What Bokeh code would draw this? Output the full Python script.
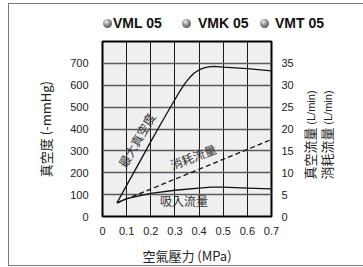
import math
from bokeh.plotting import figure
from bokeh.layouts import column, row
from bokeh.models import (Range1d, LinearAxis, FixedTicker, Label, Grid, InlineStyleSheet, Div)
from bokeh.embed import file_html
from bokeh.resources import INLINE

# ---- data ----
x_ticks = [0, 0.1, 0.2, 0.3, 0.4, 0.5, 0.6, 0.7]
x_tick_labels = ["0", "0.1", "0.2", "0.3", "0.4", "0.5", "0.6", "0.7"]
left_ticks = [0, 100, 200, 300, 400, 500, 600, 700]
right_ticks = [0, 5, 10, 15, 20, 25, 30, 35]

vac_pressure = [0.06, 0.10, 0.15, 0.20, 0.25, 0.30, 0.32, 0.34, 0.36, 0.38, 0.40,
                0.42, 0.44, 0.46, 0.50, 0.60, 0.70]
vac_mmhg = [62, 142, 242, 342, 440, 535, 572, 606, 634, 656, 670,
            679, 684, 686, 683, 676, 666]

cons_pressure = [0.06, 0.70]
cons_lmin = [3.1, 17.6]

suc_pressure = [0.06, 0.10, 0.20, 0.30, 0.40, 0.45, 0.50, 0.60, 0.70]
suc_lmin = [3.1, 4.1, 5.3, 6.0, 6.5, 6.7, 6.7, 6.5, 6.3]

models = ["VML 05", "VMK 05", "VMT 05"]
right_titles = ["真空流量", "消耗流量"]
right_unit = "(L/min)"

CJK = "Noto Sans CJK TC"
LAT = "Liberation Sans"
W = 363
H = 267
TOP_H = 40
PLOT_W = 300

# ---- legend strip (model markers), as HTML ----
marker_cx = [107, 186, 264.5]      # layout positions of the legend entries
label_x0 = [113, 198, 275]
leg_y = 23
parts = []
for cx, lx, m in zip(marker_cx, label_x0, models):
    parts.append(
        f'<span style="position:absolute;left:{cx - 4.5}px;top:{leg_y - 4.5}px;width:9px;height:9px;'
        f'border-radius:50%;background:radial-gradient(circle at 38% 32%, #f2f2f2 0%, #9a9a9a 35%, '
        f'#5a5a5a 75%, #3a3a3a 100%);"></span>'
        f'<span style="position:absolute;left:{lx}px;top:{leg_y - 9}px;line-height:18px;'
        f'white-space:nowrap;">{m}</span>')
legend_div = Div(width=W, height=TOP_H, margin=0,
                 text=(f'<div style="position:relative;width:{W}px;height:{TOP_H}px;'
                       f"font-family:'{LAT}';font-weight:bold;font-size:14px;color:#111111;\">"
                       + "".join(parts) + "</div>"))

# ---- right-hand axis titles (read bottom to top), as HTML ----
RIGHT_W = W - PLOT_W
title_cx = [10, 27]
title_cy = 95
rparts = []
for cx, t in zip(title_cx, right_titles):
    rparts.append(
        f'<span style="position:absolute;left:{cx}px;top:{title_cy}px;'
        f'transform:translate(-50%,-50%) rotate(-90deg);white-space:nowrap;line-height:15px;">'
        f'{t} <span style="font-family:\'{LAT}\';font-size:11px;">{right_unit}</span></span>')
right_div = Div(width=RIGHT_W, height=H - TOP_H, margin=0,
                text=(f'<div style="position:relative;width:{RIGHT_W}px;height:{H - TOP_H}px;'
                      f"font-family:'{CJK}';font-size:13px;color:#222222;\">"
                      + "".join(rparts) + "</div>"))

# ---- main chart ----
p = figure(width=PLOT_W, height=H - TOP_H, x_range=Range1d(0, 0.7), y_range=Range1d(0, 800),
           output_backend="svg", toolbar_location=None,
           x_axis_type=None, y_axis_type=None,
           min_border_left=102, min_border_right=29, min_border_top=1, min_border_bottom=48)
p.extra_y_ranges = {"flow": Range1d(0, 40)}
p.background_fill_color = "#efefef"
p.border_fill_color = "white"
p.outline_line_color = "black"
p.outline_line_width = 2

# grids
p.add_layout(Grid(dimension=0, ticker=FixedTicker(ticks=x_ticks[1:-1]),
                  grid_line_color="#1a1a1a", grid_line_width=1))
p.add_layout(Grid(dimension=1, ticker=FixedTicker(ticks=left_ticks[1:]),
                  grid_line_color="#5a5a5a", grid_line_width=1.3))

def style_axis(ax, size="11px"):
    ax.major_tick_out = 0
    ax.major_tick_in = 0
    ax.minor_tick_out = 0
    ax.minor_tick_in = 0
    ax.axis_line_color = None
    ax.major_label_text_font = LAT
    ax.major_label_text_font_size = size
    ax.major_label_text_color = "#222222"
    ax.axis_label_text_font = CJK
    ax.axis_label_text_font_size = "13px"
    ax.axis_label_text_font_style = "normal"
    ax.axis_label_text_color = "#222222"

bottom = LinearAxis(ticker=FixedTicker(ticks=x_ticks),
                    major_label_overrides={t: s for t, s in zip(x_ticks, x_tick_labels)},
                    axis_label="空氣壓力 (MPa)")
style_axis(bottom)
bottom.major_label_standoff = 10
bottom.axis_label_standoff = 8
p.add_layout(bottom, "below")

left = LinearAxis(ticker=FixedTicker(ticks=left_ticks), axis_label="真空度 (-mmHg)")
style_axis(left)
left.major_label_standoff = 14
left.axis_label_standoff = 12
p.add_layout(left, "left")

right1 = LinearAxis(y_range_name="flow", ticker=FixedTicker(ticks=right_ticks))
style_axis(right1)
right1.major_label_standoff = 10
p.add_layout(right1, "right")

# curves
p.line(vac_pressure, vac_mmhg, line_color="#111111", line_width=1.3)
p.line(cons_pressure, cons_lmin, y_range_name="flow", line_color="#111111",
       line_width=1.3, line_dash="5 3")
p.line(suc_pressure, suc_lmin, y_range_name="flow", line_color="#111111", line_width=1.3)

# curve labels
lab_kw = dict(text_font=CJK, text_font_size="12px", text_color="#333333",
              text_align="center", text_baseline="middle", angle_units="deg")
p.add_layout(Label(x=0.14, y=350, text="最大真空度", angle=60, **lab_kw))
p.add_layout(Label(x=0.375, y=275, text="消耗流量", angle=21, **lab_kw))
p.add_layout(Label(x=0.338, y=75, text="吸入流量", angle=0, **lab_kw))

layout = column(legend_div, row(p, right_div, spacing=0), spacing=0)
# outer picture frame drawn as an overlay (no effect on layout)
layout.stylesheets = [InlineStyleSheet(css="""
:host::after { content: ""; position: absolute; left: 8px; top: 3px;
  width: 355px; height: 263px; border: 1.5px solid #7a7a7a; border-right: none;
  box-sizing: border-box; pointer-events: none; }
""")]

open("out.html", "w").write(file_html(layout, INLINE))
